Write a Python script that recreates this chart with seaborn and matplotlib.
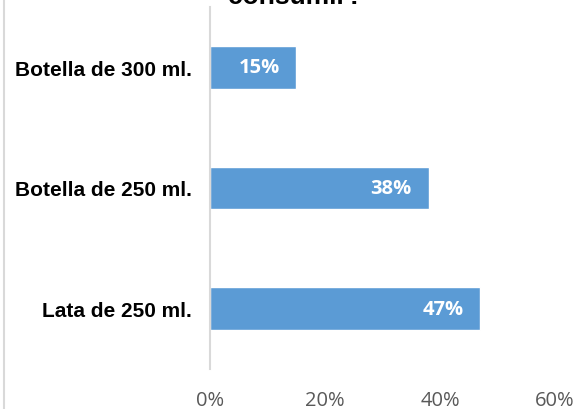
import matplotlib
matplotlib.use("Agg")
import matplotlib.pyplot as plt
import seaborn as sns
import pandas as pd
from matplotlib.lines import Line2D

categories = ["Botella de 300 ml.", "Botella de 250 ml.", "Lata de 250 ml."]
values = [15, 38, 47]
tick_vals = [0, 20, 40, 60]
tick_labels = ["0%", "20%", "40%", "60%"]
title = "¿Qué presentación prefiere consumir?"

df = pd.DataFrame({"cat": categories, "val": values})

sns.set_style("white")
plt.rcParams["font.family"] = ["Liberation Sans", "DejaVu Sans"]

W, H = 580, 410
fig = plt.figure(figsize=(W / 100, H / 100), dpi=100)
x0, x1 = 210, 555
y0, y1 = 8, 370
ax = fig.add_axes([x0 / W, 1 - y1 / H, (x1 - x0) / W, (y1 - y0) / H])

sns.barplot(data=df, x="val", y="cat", orient="h", color="#5b9bd5",
            saturation=1, width=0.355, ax=ax)

ax.set_xlim(0, 60)
ax.set_xticks(tick_vals)
ax.set_xticklabels(tick_labels, fontfamily="Open Sans", fontsize=14.5, color="#595959")
ax.tick_params(axis="x", length=0, pad=15)
ax.tick_params(axis="y", length=0, pad=13)
for lab in ax.get_yticklabels():
    lab.set_fontweight("bold")
    lab.set_fontsize(15)
    lab.set_color("#000000")
ax.set_xlabel("")
ax.set_ylabel("")
for s in ["top", "right", "bottom"]:
    ax.spines[s].set_visible(False)
ax.spines["left"].set_color("#d9d9d9")
ax.spines["left"].set_linewidth(1.5)

for i, v in enumerate(values):
    ax.annotate(f"{v}%", xy=(v, i), xytext=(-12, 0), textcoords="offset points",
                ha="right", va="center", color="white", fontweight="bold",
                fontsize=14.5, fontfamily="Open Sans")

# Title is clipped by the top edge in the reference: only the bottom of "consumir?" shows
fig.text(295 / W, 1 - 4 / H, "consumir?", ha="center", va="baseline",
         fontsize=19, fontweight="bold", color="#000000")

fig.add_artist(Line2D([3.5 / W, 3.5 / W], [0, 1], transform=fig.transFigure,
                      color="#d9d9d9", linewidth=1.5))

fig.savefig("out.png", dpi=100)
